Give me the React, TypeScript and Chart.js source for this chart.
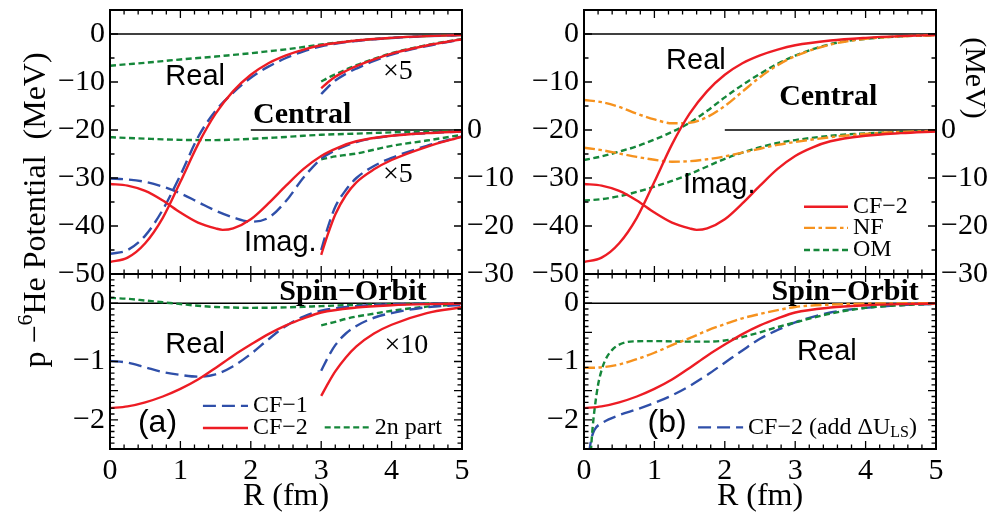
import React, { useEffect, useRef } from 'react';
import { Chart, registerables } from 'chart.js';

Chart.register(...registerables);

const SERIF = "'Liberation Serif', 'Times New Roman', Times, serif";
const SANS = "'Liberation Sans', Arial, Helvetica, sans-serif";

const RED = '#ED1C24';
const BLUE = '#2F4FA9';
const GREEN = '#15873A';
const ORANGE = '#F6921E';

// ---------- tick labels ----------
const centralTicksLeft = [0, -10, -20, -30, -40, -50];
const centralTicksRight = [0, -10, -20, -30];
const soTicks = [0, -1, -2];
const rTicks = [0, 1, 2, 3, 4, 5];

// ---------- R grids (fm) ----------
const R_FULL = [0, 0.25, 0.5, 0.75, 1, 1.25, 1.5, 1.75, 2, 2.25, 2.5, 2.75, 3, 3.5, 4, 4.5, 5];
const R_TAIL = [3, 3.1, 3.2, 3.35, 3.5, 3.75, 4, 4.5, 5];
const R_IMAG_CF2 = [0, 0.25, 0.5, 0.75, 1, 1.25, 1.5, 1.6, 1.75, 2, 2.25, 2.5, 2.75, 3, 3.25, 3.5, 4, 4.5, 5];
const R_IMAG_CF1 = [0, 0.25, 0.5, 0.75, 1, 1.25, 1.5, 1.75, 2, 2.25, 2.5, 2.75, 3, 3.25, 3.5, 4, 4.5, 5];
const R_OM_SO = [0.07, 0.1, 0.125, 0.15, 0.2, 0.25, 0.3, 0.4, 0.5, 0.7, 1, 1.25, 1.5, 1.75, 2, 2.25, 2.5, 2.75, 3, 3.5, 4, 4.5, 5];
const R_ADD_LS = [0.07, 0.1, 0.15, 0.25, 0.5, 0.75, 1, 1.25, 1.5, 1.75, 2, 2.25, 2.5, 2.75, 3, 3.5, 4, 4.5, 5];
const R_LINE = [0, 5];
const R_IMAG_ZERO = [2, 5];
const V_LINE = [0, 0];

// ---------- (a) central, real part (MeV, left axis) ----------
const cf2CentralReal = [-47.5, -46.6, -43.6, -38.3, -30.8, -23.0, -16.6, -11.9, -8.5, -6.1, -4.45, -3.25, -2.35, -1.35, -0.8, -0.45, -0.22];
const cf1CentralReal = [-45.8, -45.0, -42.0, -36.6, -29.4, -21.5, -16.0, -12.2, -9.1, -6.8, -5.0, -3.6, -2.55, -1.45, -0.82, -0.46, -0.23];
const twoNCentralReal = [-6.6, -6.3, -6.0, -5.65, -5.3, -5.0, -4.7, -4.35, -4.0, -3.6, -3.2, -2.7, -2.2, -1.35, -0.8, -0.42, -0.2];
const cf2CentralRealX5 = [-11.3, -10.0, -8.9, -7.7, -6.7, -5.3, -4.1, -2.4, -1.1];
const cf1CentralRealX5 = [-12.5, -11.0, -9.7, -8.3, -7.2, -5.6, -4.3, -2.5, -1.15];
const twoNCentralRealX5 = [-9.9, -9.1, -8.4, -7.4, -6.5, -5.2, -4.0, -2.3, -1.05];

// ---------- (a) central, imaginary part (MeV, right axis) ----------
const cf2CentralImag = [-11.25, -11.6, -12.7, -14.7, -17.2, -19.3, -20.5, -20.8, -20.5, -18.6, -15.3, -11.6, -8.1, -5.4, -3.6, -2.35, -1.2, -0.65, -0.3];
const cf1CentralImag = [-10.1, -10.3, -10.8, -11.8, -13.2, -15.0, -16.8, -18.2, -19.1, -18.3, -14.8, -9.9, -6.0, -3.9, -2.5, -1.2, -0.65, -0.3];
const twoNCentralImag = [-1.5, -1.65, -1.8, -1.95, -2.05, -2.1, -2.1, -2.0, -1.85, -1.65, -1.45, -1.2, -1.0, -0.75, -0.5, -0.32, -0.2];
const cf2CentralImagX5 = [-26, -21.5, -17.6, -13.6, -10.9, -8.2, -6.25, -3.5, -1.4];
const cf1CentralImagX5 = [-25, -20.0, -16.0, -12.5, -10.0, -7.5, -5.8, -3.3, -1.35];
const twoNCentralImagX5 = [-6.1, -5.8, -5.5, -5.2, -4.9, -4.1, -3.3, -2.2, -1.0];

// ---------- (a) spin-orbit ----------
const cf2SO = [-1.8, -1.77, -1.7, -1.6, -1.47, -1.31, -1.11, -0.9, -0.71, -0.53, -0.38, -0.26, -0.16, -0.075, -0.036, -0.016, -0.006];
const cf1SO = [-0.99, -1.02, -1.1, -1.18, -1.23, -1.26, -1.22, -1.08, -0.87, -0.62, -0.39, -0.23, -0.13, -0.05, -0.02, -0.008, -0.003];
const twoNSO = [0.09, 0.075, 0.045, 0.015, -0.015, -0.045, -0.065, -0.075, -0.08, -0.078, -0.072, -0.062, -0.05, -0.03, -0.015, -0.007, -0.003];
const cf2SOx10 = [-1.59, -1.37, -1.17, -0.93, -0.74, -0.52, -0.37, -0.17, -0.07];
const cf1SOx10 = [-1.16, -0.92, -0.72, -0.52, -0.39, -0.25, -0.17, -0.07, -0.03];
const twoNSOx10 = [-0.38, -0.35, -0.32, -0.27, -0.23, -0.18, -0.13, -0.06, -0.02];

// ---------- (b) central ----------
const nfCentralReal = [-13.75, -14.2, -15.2, -16.6, -17.8, -18.6, -18.5, -17.3, -15.0, -12.0, -9.0, -6.5, -4.6, -2.2, -1.0, -0.5, -0.25];
const omCentralReal = [-26.25, -25.5, -24.5, -23.4, -22.0, -20.4, -18.5, -16.0, -13.2, -10.6, -8.3, -6.2, -4.5, -2.1, -1.0, -0.5, -0.25];
const nfCentralImag = [-3.7, -4.2, -4.9, -5.6, -6.2, -6.6, -6.5, -6.1, -5.5, -4.7, -3.9, -3.1, -2.5, -1.5, -0.8, -0.4, -0.2];
const omCentralImag = [-14.7, -14.4, -13.8, -12.9, -11.8, -10.6, -9.2, -7.6, -6.0, -4.7, -3.6, -2.7, -2.1, -1.2, -0.7, -0.4, -0.2];

// ---------- (b) spin-orbit ----------
const nfSO = [-1.11, -1.1, -1.05, -0.96, -0.85, -0.72, -0.6, -0.47, -0.36, -0.26, -0.185, -0.12, -0.065, -0.025, -0.008, -0.003, 0];
const omSO = [-3.2, -2.5, -2.1, -1.82, -1.4, -1.15, -0.98, -0.8, -0.71, -0.655, -0.65, -0.655, -0.66, -0.66, -0.64, -0.58, -0.5, -0.41, -0.33, -0.18, -0.08, -0.035, -0.01];
const cf2AddLS = [-2.6, -2.35, -2.17, -2.06, -1.92, -1.82, -1.71, -1.58, -1.42, -1.23, -1.02, -0.81, -0.61, -0.46, -0.33, -0.16, -0.08, -0.035, -0.012];

// ---------- styles ----------
type LineStyle = { color: string; width: number; dash: number[] };
const S_RED: LineStyle = { color: RED, width: 2.4, dash: [] };
const S_BLUE: LineStyle = { color: BLUE, width: 2.4, dash: [13, 6] };
const S_GREEN: LineStyle = { color: GREEN, width: 2.4, dash: [6, 3.5] };
const S_ORANGE: LineStyle = { color: ORANGE, width: 2.4, dash: [11, 3.5, 3.5, 3.5] };
const S_BLACK: LineStyle = { color: '#000', width: 1.5, dash: [] };

const fmt = (v: number) => (v < 0 ? '\u2212' + Math.abs(v) : String(v));

function ds(rs: number[], vs: number[], st: LineStyle, axis = 'y') {
  return {
    data: rs.map((r, i) => ({ x: r, y: vs[i] })),
    borderColor: st.color,
    borderWidth: st.width,
    borderDash: st.dash,
    borderCapStyle: 'butt',
    pointRadius: 0,
    fill: false,
    cubicInterpolationMode: 'monotone',
    yAxisID: axis,
  };
}

type Seg = { t: string; font: string; dy?: number };
type Note = { segs: Seg[]; r: number; v: number; axis?: string; align: 'left' | 'center' };
type Leg = { r1: number; r2: number; v: number; st: LineStyle };

type Spec = {
  yMin: number; yMax: number; yMinor: number; yMajor: number;
  notes: Note[]; legs: Leg[];
};

const fSans = `29px ${SANS}`;
const fSerif = `28px ${SERIF}`;
const fBold = `bold 30px ${SERIF}`;
const fLeg = `24px ${SERIF}`;
const fLegSub = `16px ${SERIF}`;
const fTag = `32px ${SANS}`;

function decoPlugin(p: Spec) {
  return {
    id: 'deco',
    afterDatasetsDraw(chart: any) {
      const { ctx, chartArea: a, scales } = chart;
      const xs = scales.x;
      const ys = scales.y;
      ctx.save();
      ctx.setLineDash([]);
      ctx.strokeStyle = '#000';
      ctx.lineWidth = 1.3;
      ctx.beginPath();
      const nx = Math.round(5 / 0.2);
      for (let i = 0; i <= nx; i++) {
        const v = i * 0.2;
        const maj = Math.abs(v - Math.round(v)) < 1e-6;
        const L = maj ? 8 : 4.5;
        const px = xs.getPixelForValue(v);
        ctx.moveTo(px, a.top); ctx.lineTo(px, a.top + L);
        ctx.moveTo(px, a.bottom); ctx.lineTo(px, a.bottom - L);
      }
      const ny = Math.round((p.yMax - p.yMin) / p.yMinor);
      for (let i = 0; i <= ny; i++) {
        const v = p.yMin + i * p.yMinor;
        const q = v / p.yMajor;
        const maj = Math.abs(q - Math.round(q)) < 1e-6;
        const L = maj ? 8 : 4.5;
        const py = ys.getPixelForValue(v);
        ctx.moveTo(a.left, py); ctx.lineTo(a.left + L, py);
        ctx.moveTo(a.right, py); ctx.lineTo(a.right - L, py);
      }
      ctx.stroke();
      ctx.lineWidth = 2;
      ctx.strokeRect(a.left, a.top, a.right - a.left, a.bottom - a.top);

      // legend samples
      for (const l of p.legs) {
        const y = ys.getPixelForValue(l.v);
        ctx.beginPath();
        ctx.strokeStyle = l.st.color;
        ctx.lineWidth = l.st.width;
        ctx.setLineDash(l.st.dash);
        ctx.moveTo(xs.getPixelForValue(l.r1), y);
        ctx.lineTo(xs.getPixelForValue(l.r2), y);
        ctx.stroke();
      }
      ctx.setLineDash([]);

      // text
      ctx.fillStyle = '#000';
      ctx.textBaseline = 'middle';
      for (const n of p.notes) {
        const sc = scales[n.axis || 'y'];
        const y = sc.getPixelForValue(n.v);
        let x = xs.getPixelForValue(n.r);
        let total = 0;
        for (const s of n.segs) { ctx.font = s.font; total += ctx.measureText(s.t).width; }
        if (n.align === 'center') x -= total / 2;
        ctx.textAlign = 'left';
        for (const s of n.segs) {
          ctx.font = s.font;
          ctx.fillText(s.t, x, y + (s.dy || 0));
          x += ctx.measureText(s.t).width;
        }
      }
      ctx.restore();
    },
  };
}

function yScale(min: number, max: number, ticks: number[], position: string, width: number) {
  return {
    type: 'linear',
    position,
    min,
    max,
    afterBuildTicks: (s: any) => { s.ticks = ticks.map((v) => ({ value: v })); },
    afterFit: (s: any) => { s.width = width; s.paddingTop = 0; s.paddingBottom = 0; },
    grid: { display: false, drawTicks: false },
    border: { display: false },
    ticks: { font: { family: SERIF, size: 30 }, color: '#000', padding: 5, autoSkip: false, callback: (v: number) => fmt(v) },
  };
}

const xHidden = { type: 'linear', min: 0, max: 5, display: false };
const xShown = {
  type: 'linear',
  position: 'bottom',
  min: 0,
  max: 5,
  afterBuildTicks: (s: any) => { s.ticks = rTicks.map((v) => ({ value: v })); },
  afterFit: (s: any) => { s.height = 69; s.paddingLeft = 0; s.paddingRight = 0; },
  grid: { display: false, drawTicks: false },
  border: { display: false },
  ticks: { font: { family: SERIF, size: 30 }, color: '#000', padding: 4, maxRotation: 0, autoSkip: false, callback: (v: number) => fmt(v) },
  title: { display: true, text: 'R (fm)', font: { family: SERIF, size: 32 }, color: '#000', padding: { top: 0, bottom: 2 } },
};

function makeConfig(datasets: any[], scalesCfg: any, padding: any, spec: Spec) {
  return {
    type: 'line',
    data: { datasets },
    options: {
      animation: false,
      responsive: false,
      maintainAspectRatio: false,
      devicePixelRatio: 1,
      events: [],
      layout: { padding },
      plugins: { legend: { display: false }, tooltip: { enabled: false }, title: { display: false } },
      scales: scalesCfg,
    },
    plugins: [decoPlugin(spec)],
  } as any;
}

// ---------- panel configs ----------
function cfgTopLeft() {
  const datasets = [
    ds(R_FULL, cf2CentralReal, S_RED),
    ds(R_TAIL, cf2CentralRealX5, S_RED),
    ds(R_IMAG_CF2, cf2CentralImag, S_RED, 'y2'),
    ds(R_TAIL, cf2CentralImagX5, S_RED, 'y2'),
    ds(R_FULL, cf1CentralReal, S_BLUE),
    ds(R_TAIL, cf1CentralRealX5, S_BLUE),
    ds(R_IMAG_CF1, cf1CentralImag, S_BLUE, 'y2'),
    ds(R_TAIL, cf1CentralImagX5, S_BLUE, 'y2'),
    ds(R_FULL, twoNCentralReal, S_GREEN),
    ds(R_TAIL, twoNCentralRealX5, S_GREEN),
    ds(R_FULL, twoNCentralImag, S_GREEN, 'y2'),
    ds(R_TAIL, twoNCentralImagX5, S_GREEN, 'y2'),
    ds(R_LINE, V_LINE, S_BLACK),
    ds(R_IMAG_ZERO, V_LINE, S_BLACK, 'y2'),
  ];
  const spec: Spec = {
    yMin: -50, yMax: 5, yMinor: 5, yMajor: 10,
    legs: [],
    notes: [
      { segs: [{ t: 'Real', font: fSans }], r: 1.21, v: -9.0, align: 'center' },
      { segs: [{ t: '\u00d75', font: fSerif }], r: 4.09, v: -7.8, align: 'center' },
      { segs: [{ t: 'Central', font: fBold }], r: 2.73, v: -16.9, align: 'center' },
      { segs: [{ t: '\u00d75', font: fSerif }], r: 4.09, v: -9.4, axis: 'y2', align: 'center' },
      { segs: [{ t: 'Imag.', font: fSans }], r: 2.42, v: -43.5, align: 'center' },
    ],
  };
  return makeConfig(datasets, {
    x: xHidden,
    y: yScale(-50, 5, centralTicksLeft, 'left', 110),
    y2: yScale(-30, 25, centralTicksRight, 'right', 60),
  }, { top: 10, bottom: 26, left: 0, right: 0 }, spec);
}

function cfgTopRight() {
  const datasets = [
    ds(R_FULL, cf2CentralReal, S_RED),
    ds(R_IMAG_CF2, cf2CentralImag, S_RED, 'y2'),
    ds(R_FULL, nfCentralReal, S_ORANGE),
    ds(R_FULL, nfCentralImag, S_ORANGE, 'y2'),
    ds(R_FULL, omCentralReal, S_GREEN),
    ds(R_FULL, omCentralImag, S_GREEN, 'y2'),
    ds(R_LINE, V_LINE, S_BLACK),
    ds(R_IMAG_ZERO, V_LINE, S_BLACK, 'y2'),
  ];
  const spec: Spec = {
    yMin: -50, yMax: 5, yMinor: 5, yMajor: 10,
    legs: [
      { r1: 3.125, r2: 3.75, v: -36.0, st: S_RED },
      { r1: 3.125, r2: 3.75, v: -40.4, st: S_ORANGE },
      { r1: 3.125, r2: 3.75, v: -45.0, st: S_GREEN },
    ],
    notes: [
      { segs: [{ t: 'Real', font: fSans }], r: 1.59, v: -5.6, align: 'center' },
      { segs: [{ t: 'Central', font: fBold }], r: 3.47, v: -13.1, align: 'center' },
      { segs: [{ t: 'Imag.', font: fSans }], r: 1.92, v: -31.5, align: 'center' },
      { segs: [{ t: 'CF\u22122', font: fLeg }], r: 3.82, v: -36.0, align: 'left' },
      { segs: [{ t: 'NF', font: fLeg }], r: 3.82, v: -40.4, align: 'left' },
      { segs: [{ t: 'OM', font: fLeg }], r: 3.82, v: -45.0, align: 'left' },
    ],
  };
  return makeConfig(datasets, {
    x: xHidden,
    y: yScale(-50, 5, centralTicksLeft, 'left', 110),
    y2: yScale(-30, 25, centralTicksRight, 'right', 59),
  }, { top: 10, bottom: 26, left: 0, right: 0 }, spec);
}

function cfgBottomLeft() {
  const datasets = [
    ds(R_FULL, cf2SO, S_RED),
    ds(R_TAIL, cf2SOx10, S_RED),
    ds(R_FULL, cf1SO, S_BLUE),
    ds(R_TAIL, cf1SOx10, S_BLUE),
    ds(R_FULL, twoNSO, S_GREEN),
    ds(R_TAIL, twoNSOx10, S_GREEN),
    ds(R_LINE, V_LINE, S_BLACK),
  ];
  const spec: Spec = {
    yMin: -2.5, yMax: 0.5, yMinor: 0.1, yMajor: 0.5,
    legs: [
      { r1: 1.32, r2: 1.96, v: -1.76, st: S_BLUE },
      { r1: 1.32, r2: 1.96, v: -2.14, st: S_RED },
      { r1: 3.05, r2: 3.69, v: -2.13, st: S_GREEN },
    ],
    notes: [
      { segs: [{ t: 'Spin\u2212Orbit', font: fBold }], r: 3.45, v: 0.19, align: 'center' },
      { segs: [{ t: 'Real', font: fSans }], r: 1.21, v: -0.71, align: 'center' },
      { segs: [{ t: '\u00d710', font: fSerif }], r: 4.21, v: -0.73, align: 'center' },
      { segs: [{ t: '(a)', font: fTag }], r: 0.675, v: -2.06, align: 'center' },
      { segs: [{ t: 'CF\u22121', font: fLeg }], r: 2.03, v: -1.76, align: 'left' },
      { segs: [{ t: 'CF\u22122', font: fLeg }], r: 2.03, v: -2.14, align: 'left' },
      { segs: [{ t: '2n part', font: fLeg }], r: 3.76, v: -2.13, align: 'left' },
    ],
  };
  return makeConfig(datasets, {
    x: xShown,
    y: yScale(-2.5, 0.5, soTicks, 'left', 110),
  }, { top: 4, bottom: 0, left: 0, right: 60 }, spec);
}

function cfgBottomRight() {
  const datasets = [
    ds(R_FULL, cf2SO, S_RED),
    ds(R_FULL, nfSO, S_ORANGE),
    ds(R_OM_SO, omSO, S_GREEN),
    ds(R_ADD_LS, cf2AddLS, S_BLUE),
    ds(R_LINE, V_LINE, S_BLACK),
  ];
  const spec: Spec = {
    yMin: -2.5, yMax: 0.5, yMinor: 0.1, yMajor: 0.5,
    legs: [{ r1: 1.62, r2: 2.26, v: -2.13, st: S_BLUE }],
    notes: [
      { segs: [{ t: 'Spin\u2212Orbit', font: fBold }], r: 3.71, v: 0.19, align: 'center' },
      { segs: [{ t: 'Real', font: fSans }], r: 3.45, v: -0.845, align: 'center' },
      { segs: [{ t: '(b)', font: fTag }], r: 1.18, v: -2.06, align: 'center' },
      {
        segs: [
          { t: 'CF\u22122 (add \u0394U', font: fLeg },
          { t: 'LS', font: fLegSub, dy: 5 },
          { t: ')', font: fLeg },
        ],
        r: 2.33, v: -2.13, align: 'left',
      },
    ],
  };
  return makeConfig(datasets, {
    x: xShown,
    y: yScale(-2.5, 0.5, soTicks, 'left', 110),
  }, { top: 4, bottom: 0, left: 0, right: 59 }, spec);
}

function Panel(props: { left: number; top: number; width: number; height: number; build: () => any }) {
  const ref = useRef<HTMLCanvasElement>(null);
  useEffect(() => {
    const chart = new Chart(ref.current as HTMLCanvasElement, props.build());
    return () => chart.destroy();
  }, []);
  return (
    <canvas
      ref={ref}
      width={props.width}
      height={props.height}
      style={{ position: 'absolute', left: props.left, top: props.top, width: props.width, height: props.height }}
    />
  );
}

export default function App() {
  return (
    <div style={{ position: 'absolute', left: 0, top: 0, width: 995, height: 518, background: '#fff', overflow: 'hidden' }}>
      <Panel left={0} top={0} width={522} height={300} build={cfgTopLeft} />
      <Panel left={474} top={0} width={521} height={300} build={cfgTopRight} />
      <Panel left={0} top={270} width={522} height={248} build={cfgBottomLeft} />
      <Panel left={474} top={270} width={521} height={248} build={cfgBottomRight} />
      <div
        style={{
          position: 'absolute', left: 34 - 200, top: 210 - 16, width: 400, height: 32,
          lineHeight: '32px', fontSize: 32, fontFamily: SERIF, color: '#000', textAlign: 'center',
          whiteSpace: 'pre', transform: 'rotate(-90deg)',
        }}
      >
        {'p \u2212'}<span style={{ fontSize: 22, position: 'relative', top: -13 }}>6</span>{'He Potential  (MeV)'}
      </div>
      <div
        style={{
          position: 'absolute', left: 976 - 60, top: 78 - 15, width: 120, height: 30,
          lineHeight: '30px', fontSize: 30, fontFamily: SERIF, color: '#000', textAlign: 'center',
          whiteSpace: 'pre', transform: 'rotate(90deg)',
        }}
      >
        (MeV)
      </div>
    </div>
  );
}
